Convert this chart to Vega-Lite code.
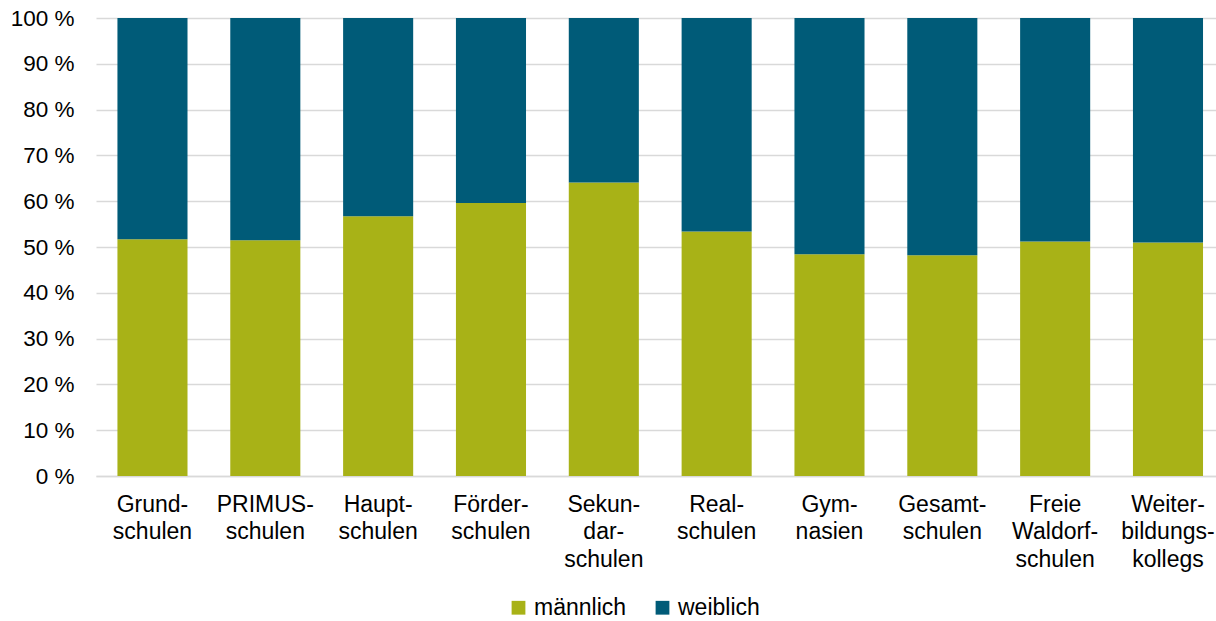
{
  "$schema": "https://vega.github.io/schema/vega-lite/v6.json",
  "width": 1120,
  "height": 458,
  "autosize": {"type": "none"},
  "padding": {"left": 96, "top": 18, "right": 0, "bottom": 145},
  "background": "white",
  "data": {
    "values": [
      {"schule": "Grund-|schulen", "geschlecht": "männlich", "anteil": 51.7, "o": 1},
      {"schule": "Grund-|schulen", "geschlecht": "weiblich", "anteil": 48.3, "o": 2},
      {"schule": "PRIMUS-|schulen", "geschlecht": "männlich", "anteil": 51.5, "o": 1},
      {"schule": "PRIMUS-|schulen", "geschlecht": "weiblich", "anteil": 48.5, "o": 2},
      {"schule": "Haupt-|schulen", "geschlecht": "männlich", "anteil": 56.7, "o": 1},
      {"schule": "Haupt-|schulen", "geschlecht": "weiblich", "anteil": 43.3, "o": 2},
      {"schule": "Förder-|schulen", "geschlecht": "männlich", "anteil": 59.6, "o": 1},
      {"schule": "Förder-|schulen", "geschlecht": "weiblich", "anteil": 40.4, "o": 2},
      {"schule": "Sekun-|dar-|schulen", "geschlecht": "männlich", "anteil": 64.1, "o": 1},
      {"schule": "Sekun-|dar-|schulen", "geschlecht": "weiblich", "anteil": 35.9, "o": 2},
      {"schule": "Real-|schulen", "geschlecht": "männlich", "anteil": 53.4, "o": 1},
      {"schule": "Real-|schulen", "geschlecht": "weiblich", "anteil": 46.6, "o": 2},
      {"schule": "Gym-|nasien", "geschlecht": "männlich", "anteil": 48.4, "o": 1},
      {"schule": "Gym-|nasien", "geschlecht": "weiblich", "anteil": 51.6, "o": 2},
      {"schule": "Gesamt-|schulen", "geschlecht": "männlich", "anteil": 48.2, "o": 1},
      {"schule": "Gesamt-|schulen", "geschlecht": "weiblich", "anteil": 51.8, "o": 2},
      {"schule": "Freie|Waldorf-|schulen", "geschlecht": "männlich", "anteil": 51.2, "o": 1},
      {"schule": "Freie|Waldorf-|schulen", "geschlecht": "weiblich", "anteil": 48.8, "o": 2},
      {"schule": "Weiter-|bildungs-|kollegs", "geschlecht": "männlich", "anteil": 51.0, "o": 1},
      {"schule": "Weiter-|bildungs-|kollegs", "geschlecht": "weiblich", "anteil": 49.0, "o": 2}
    ]
  },
  "mark": {"type": "bar"},
  "encoding": {
    "x": {
      "field": "schule",
      "type": "nominal",
      "sort": null,
      "scale": {"paddingInner": 0.379, "paddingOuter": 0.1525, "align": 0.623},
      "axis": {
        "title": null,
        "labelAngle": 0,
        "labelExpr": "split(datum.label, '|')",
        "labelFont": "Liberation Sans",
        "labelFontSize": 23,
        "labelLineHeight": 27.5,
        "labelColor": "#000000",
        "labelPadding": 17,
        "ticks": false,
        "domainColor": "#d9d9d9",
        "domainWidth": 1.5,
        "labelBaseline": "top"
      }
    },
    "y": {
      "field": "anteil",
      "type": "quantitative",
      "stack": "zero",
      "scale": {"domain": [0, 100], "nice": false},
      "axis": {
        "title": null,
        "values": [0, 10, 20, 30, 40, 50, 60, 70, 80, 90, 100],
        "labelExpr": "datum.value + ' %'",
        "labelFont": "Liberation Sans",
        "labelFontSize": 22.5,
        "labelColor": "#000000",
        "labelPadding": 22,
        "ticks": false,
        "domain": false,
        "grid": true,
        "gridColor": "#d9d9d9",
        "gridWidth": 1.5
      }
    },
    "color": {
      "field": "geschlecht",
      "type": "nominal",
      "scale": {"domain": ["männlich", "weiblich"], "range": ["#A8B217", "#005B78"]},
      "legend": {
        "title": null,
        "orient": "none",
        "legendX": 411,
        "legendY": 578,
        "direction": "horizontal",
        "symbolType": "square",
        "symbolSize": 190,
        "symbolStrokeWidth": 0,
        "symbolOpacity": 1,
        "labelFont": "Liberation Sans",
        "labelFontSize": 23,
        "labelColor": "#000000",
        "labelOffset": 4,
        "columnPadding": 24,
        "padding": 0
      }
    },
    "order": {"field": "o", "type": "quantitative"}
  },
  "config": {
    "view": {"stroke": null}
  }
}
